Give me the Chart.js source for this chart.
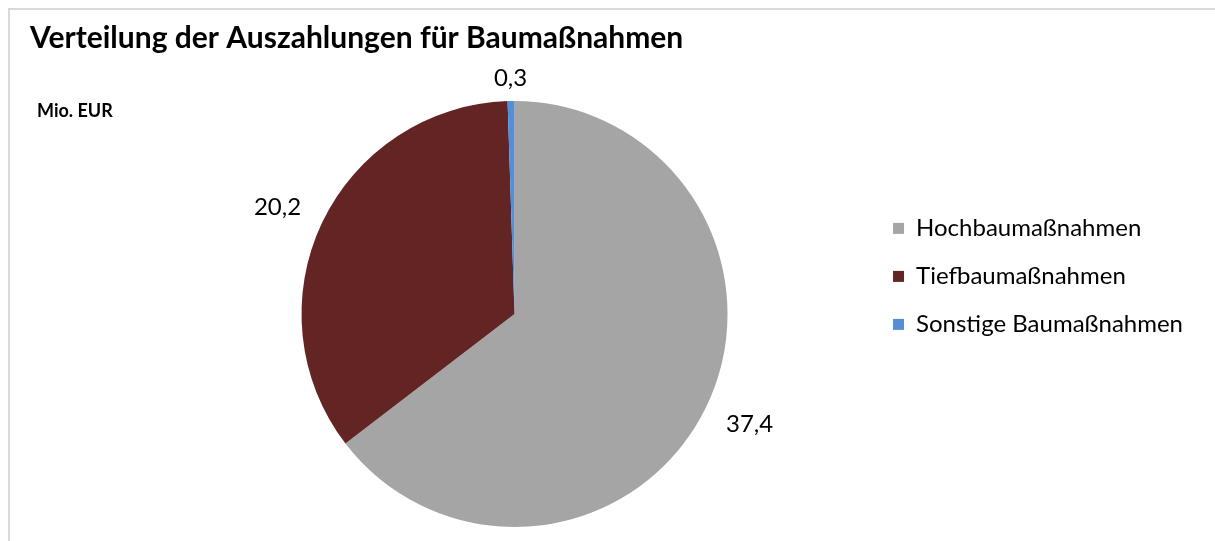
<!DOCTYPE html>
<html lang="de">
<head>
<meta charset="utf-8">
<title>Verteilung der Auszahlungen für Baumaßnahmen</title>
<script src="https://cdn.jsdelivr.net/npm/chart.js@4/dist/chart.umd.min.js"></script>
<style>
  html, body { margin: 0; padding: 0; background: #fff; }
  #wrap { position: relative; width: 1215px; height: 541px; overflow: hidden; }
  #frame { position: absolute; left: 8px; top: 8px; width: 1210px; height: 560px;
           border: 2px solid #d9d9d9; box-sizing: border-box; }
  canvas { position: absolute; left: 0; top: 0; }
</style>
</head>
<body>
<div id="wrap">
  <div id="frame"></div>
  <canvas id="pieChart" width="1215" height="541"></canvas>
</div>
<script>
var categories = ["Hochbaumaßnahmen", "Tiefbaumaßnahmen", "Sonstige Baumaßnahmen"];
var werte      = [37.4, 20.2, 0.3];
var titel      = "Verteilung der Auszahlungen für Baumaßnahmen";
var einheit    = "Mio. EUR";

var farben = ["#a5a5a5", "#632523", "#558ed5"];
var schrift = "Lato, 'Open Sans', sans-serif";

// titel und einheit oben links
var textPlugin = {
    id: "texte",
    afterDraw: function (chart) {
        var ctx = chart.ctx;
        ctx.save();
        ctx.fillStyle = "#000";
        ctx.textAlign = "left";
        ctx.textBaseline = "alphabetic";
        ctx.font = "bold 30px " + schrift;
        ctx.fillText(titel, 30, 48);
        ctx.font = "bold 18px " + schrift;
        ctx.fillText(einheit, 37, 117);
        ctx.restore();
    }
};

// werte aussen an den segmenten
var wertPlugin = {
    id: "wertLabels",
    afterDatasetsDraw: function (chart) {
        var ctx = chart.ctx;
        var meta = chart.getDatasetMeta(0);
        ctx.save();
        ctx.font = "24px " + schrift;
        ctx.fillStyle = "#000";
        ctx.textAlign = "center";
        ctx.textBaseline = "middle";
        meta.data.forEach(function (arc, i) {
            var p = arc.getProps(["x", "y", "startAngle", "endAngle", "outerRadius"], true);
            var mid = (p.startAngle + p.endAngle) / 2;
            var dx = Math.cos(mid), dy = Math.sin(mid);
            var txt = werte[i].toFixed(1).replace(".", ",");
            var w = ctx.measureText(txt).width;
            var off = 13 + 14 * Math.abs(dx);
            var ax = p.x + dx * (p.outerRadius + off) + dx * w / 2;
            var ay = p.y + dy * (p.outerRadius + off) + dy * 10;
            ctx.fillText(txt, ax, ay);
        });
        ctx.restore();
    }
};

var ctx = document.getElementById("pieChart").getContext("2d");
new Chart(ctx, {
    type: "pie",
    data: {
        labels: categories,
        datasets: [{
            data: werte,
            backgroundColor: farben,
            borderWidth: 0
        }]
    },
    options: {
        responsive: false,
        animation: false,
        layout: { padding: { left: 160, top: 101, bottom: 14, right: 22 } },
        plugins: {
            title: { display: false },
            tooltip: { enabled: false },
            legend: {
                position: "right",
                align: "start",
                title: { display: true, text: " ", padding: { top: 77, bottom: 0 }, font: { size: 12 } },
                labels: {
                    boxWidth: 11,
                    boxHeight: 11,
                    padding: 24,
                    color: "#000",
                    font: { family: schrift, size: 24 }
                }
            }
        }
    },
    plugins: [textPlugin, wertPlugin]
});
</script>
</body>
</html>
